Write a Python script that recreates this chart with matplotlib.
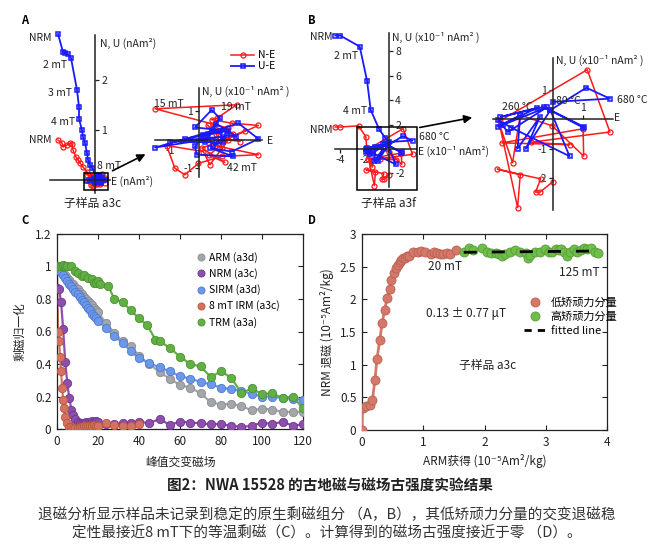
import numpy as np
import matplotlib
matplotlib.use('Agg')
import matplotlib.pyplot as plt
from matplotlib.patches import Rectangle, FancyArrowPatch
from matplotlib.lines import Line2D

plt.rcParams['font.family'] = ['Noto Sans CJK SC', 'DejaVu Sans']
plt.rcParams['font.size'] = 8
plt.rcParams['axes.unicode_minus'] = False

W, H = 660, 553

# ---------------- data ----------------
# A: AF demagnetisation of a3c. tail in nAm^2, near-zero steps in 1e-1 nAm^2
a_ue_tail_e = [-0.74, -0.64, -0.60, -0.54, -0.48, -0.36, -0.32, -0.32, -0.26, -0.24, -0.20, -0.16, -0.14, -0.10, -0.06]
a_ue_tail_u = [2.92, 2.56, 2.54, 2.52, 2.44, 1.80, 1.46, 1.22, 1.00, 0.86, 0.74, 0.54, 0.40, 0.30, 0.24]
a_ne_tail_e = [-0.74, -0.66, -0.64, -0.56, -0.50, -0.46, -0.44, -0.38, -0.34, -0.30, -0.24, -0.16, -0.10]
a_ne_tail_n = [0.80, 0.74, 0.66, 0.70, 0.74, 0.72, 0.60, 0.46, 0.40, 0.34, 0.26, 0.16, 0.06]
a_ue_e = [0.5, -1.53, 0.85, -1.01, 0.6, -0.49, 1.0, -0.14, 0.44, 0.73, 0.3, 1.37, 2.07, 1.14, 0.4,
          1.2, -0.08, -0.14, 0.15, 0.73, 0.85, 0.5, 0.97, 1.3, 0.6, 0.2]
a_ue_u = [0.3, -0.28, 0.1, -0.07, -0.1, 0.02, 0.3, 0.42, 1.03, 0.74, 0.2, 0.57, 0.02, -0.42, -0.3,
          -0.59, -0.53, -0.24, 0.16, 0.28, -0.07, -0.19, 0.16, 0.1, 0.55, -0.1]
a_ne_e = [0.3, 0.6, 1.0, -1.53, 1.31, 0.62, 0.44, 1.14, 2.07, 0.5, 2.07, 0.79, -0.02, -0.49, -0.84,
          -1.13, 0.15, 0.38, 1.02, 1.43, 0.97, 0.67, 0.2, 0.8, 0.5, 1.2, 0.35, 0.9, 0.1, 1.6]
a_ne_n = [0.5, 0.2, 0.4, 1.07, 1.21, 0.74, 0.69, 0.57, 0.49, -0.2, -0.53, -0.59, -0.83, -1.23, -1.0,
          -0.21, -0.42, -0.88, -0.01, -0.07, 0.4, 0.28, 0.1, -0.3, 0.45, 0.2, -0.55, -0.8, -0.3, 0.3]

# B: thermal demagnetisation of a3f, all in 1e-1 nAm^2
b_ue_tail_e = [-4.4, -4.0, -2.4, -1.8, -1.5, -0.8, -0.3]
b_ue_tail_u = [9.3, 9.3, 8.4, 5.6, 3.2, 1.6, 0.9]
b_ne_tail_e = [-4.4, -4.0, -2.5, -1.9]
b_ne_tail_n = [1.8, 1.8, 1.9, 1.0]
b_ue_e = [0.0, 1.93, 1.13, -0.09, 1.04, 1.02, -0.31, -1.78, -0.53, -1.87, -1.11, -1.2, -0.44, -0.92,
          -0.09, 0.56, -1.42, -1.87, -1.53, -0.2, -1.7]
b_ue_u = [0.58, 0.69, 1.06, 0.3, -0.26, -0.29, 0.41, 0.07, 0.38, -0.26, 0.13, -1.0, 0.08, -1.01,
          0.3, -1.26, -0.29, -0.03, -0.44, 0.4, -0.2]
b_ne_e = [-1.81, 1.16, 1.93, -0.76, 0.56, -1.73, 1.02, 1.04, -0.03, -1.11, -1.37, -1.81, -1.2, -1.11,
          -1.89, -0.42, -0.59, -0.44, 0.0]
b_ne_n = [-0.07, 1.67, -0.44, -0.79, -0.87, -0.81, -0.33, -1.26, -0.23, 0.13, -1.48, -0.2, -3.0, -1.89,
          -1.7, -2.03, -2.48, -2.48, -2.12]

# C: normalised AF demagnetisation
c_x_ext = [24, 28, 32, 36, 40, 45, 50, 55, 60, 65, 70, 75, 80, 85, 90, 95, 100, 105, 110, 115, 120]
c_x_arm = list(range(21)) + c_x_ext
c_arm = [1.00, 0.99, 0.975, 0.96, 0.945, 0.93, 0.915, 0.90, 0.89, 0.875, 0.86, 0.845, 0.83, 0.815,
         0.80, 0.79, 0.775, 0.76, 0.745, 0.73, 0.72,
         0.65, 0.59, 0.54, 0.51, 0.45, 0.40, 0.35, 0.31, 0.27, 0.255, 0.22, 0.165, 0.15, 0.155,
         0.14, 0.115, 0.125, 0.12, 0.105, 0.105, 0.105]
c_x_nrm = list(range(21)) + c_x_ext
c_nrm = [0.87, 0.86, 0.78, 0.615, 0.415, 0.285, 0.19, 0.12, 0.085, 0.06, 0.045, 0.04, 0.035, 0.04,
         0.045, 0.04, 0.045, 0.05, 0.045, 0.05, 0.045,
         0.03, 0.03, 0.035, 0.04, 0.045, 0.035, 0.062, 0.025, 0.045, 0.04, 0.035, 0.03, 0.03,
         0.02, 0.012, 0.02, 0.04, 0.03, 0.045, 0.02, 0.03]
c_x_sirm = list(range(21)) + c_x_ext
c_sirm = [1.00, 0.98, 0.965, 0.945, 0.93, 0.91, 0.895, 0.88, 0.86, 0.845, 0.83, 0.81, 0.795, 0.78,
          0.76, 0.745, 0.73, 0.71, 0.695, 0.68, 0.665,
          0.62, 0.57, 0.53, 0.48, 0.435, 0.405, 0.38, 0.355, 0.325, 0.31, 0.29, 0.275, 0.255,
          0.245, 0.235, 0.215, 0.20, 0.20, 0.19, 0.185, 0.18]
c_x_irm = [0, 0.5, 1, 1.5, 2, 2.5, 3, 3.5, 4] + list(range(5, 21)) + [24, 28, 32, 36, 40]
c_irm = [1.0, 0.595, 0.54, 0.445, 0.355, 0.25, 0.18, 0.13, 0.075,
         0.035, 0.015, 0.01, 0.008, 0.005, 0.008, 0.01, 0.015, 0.02, 0.02, 0.02, 0.02, 0.02,
         0.025, 0.02, 0.02,
         0.035, 0.025, 0.02, 0.02, 0.03]
c_x_trm = [0, 1, 2, 3, 4, 5, 7, 9, 10, 12, 13, 15, 17, 18, 19, 20, 21, 25, 28, 32, 36, 40, 44, 48,
           50, 55, 60, 65, 70, 75, 80, 85, 90, 95, 100, 105, 110, 115, 120]
c_trm = [1.0, 1.0, 1.005, 1.01, 1.0, 1.0, 1.0, 0.97, 0.96, 0.94, 0.95, 0.93, 0.92, 0.90, 0.90, 0.91,
         0.89, 0.88, 0.80, 0.78, 0.73, 0.68, 0.64, 0.55, 0.54, 0.50, 0.445, 0.40, 0.385, 0.32,
         0.355, 0.315, 0.22, 0.25, 0.215, 0.22, 0.19, 0.20, 0.127]
c_series = [('ARM (a3d)', c_x_arm, c_arm, '#a3a6aa', '#8a8d91'),
            ('NRM (a3c)', c_x_nrm, c_nrm, '#8c4fab', '#6f3690'),
            ('SIRM (a3d)', c_x_sirm, c_sirm, '#6d98ea', '#4f7bd0'),
            ('8 mT IRM (a3c)', c_x_irm, c_irm, '#d4725f', '#b85644'),
            ('TRM (a3a)', c_x_trm, c_trm, '#62b043', '#4a9330')]

# D: NRM lost vs ARM gained
d_low_x = [0, 0.01, 0.07, 0.125, 0.17, 0.21, 0.245, 0.29, 0.33, 0.37, 0.41, 0.45, 0.48, 0.52, 0.555,
           0.58, 0.615, 0.64, 0.67, 0.70, 0.735, 0.77, 0.84, 0.91, 0.96, 1.03, 1.12, 1.17, 1.22,
           1.28, 1.33, 1.39, 1.43, 1.54]
d_low_y = [0, 0.34, 0.37, 0.39, 0.46, 0.76, 1.09, 1.38, 1.64, 1.84, 2.02, 2.16, 2.29, 2.40, 2.48,
           2.53, 2.57, 2.60, 2.63, 2.64, 2.66, 2.66, 2.72, 2.73, 2.74, 2.73, 2.69, 2.72, 2.71,
           2.69, 2.69, 2.71, 2.70, 2.75]
d_high_x = [1.66, 1.74, 1.81, 1.96, 2.04, 2.10, 2.18, 2.23, 2.29, 2.34, 2.42, 2.50, 2.58, 2.67, 2.71,
            2.75, 2.83, 2.91, 2.98, 3.05, 3.10, 3.16, 3.21, 3.25, 3.29, 3.35, 3.40, 3.46, 3.51,
            3.58, 3.62, 3.68, 3.74, 3.80, 3.86]
d_high_y = [2.73, 2.79, 2.75, 2.79, 2.73, 2.71, 2.71, 2.69, 2.67, 2.69, 2.72, 2.75, 2.72, 2.71, 2.64,
            2.68, 2.72, 2.72, 2.77, 2.73, 2.72, 2.77, 2.75, 2.77, 2.72, 2.67, 2.73, 2.77, 2.72,
            2.75, 2.78, 2.77, 2.79, 2.73, 2.71]

RED = '#ff1a1a'
BLUE = '#1a1aff'
TXT = '#222222'
SMALL = 7.5
LOW_C, LOW_E = '#d4786a', '#bb5f50'
HIGH_C, HIGH_E = '#6fbd4b', '#55a035'

fig = plt.figure(figsize=(W / 100, H / 100), dpi=100)


def px_rect(x0, y0, x1, y1):
    return [x0 / W, 1 - y1 / H, (x1 - x0) / W, (y1 - y0) / H]


def fpx(x, y):
    return (x / W, 1 - y / H)


def zij_axes(box, origin, ppu, vbound, hbound, vside, hside):
    ax = fig.add_axes(px_rect(*box))
    x0, y0, x1, y1 = box
    ox, oy = origin
    ax.set_xlim((x0 - ox) / ppu, (x1 - ox) / ppu)
    ax.set_ylim((oy - y1) / ppu, (oy - y0) / ppu)
    ax.patch.set_alpha(0)
    for s in ax.spines.values():
        s.set_visible(False)
    for side, b in ((vside, vbound), (hside, hbound)):
        sp = ax.spines[side]
        sp.set_visible(True)
        sp.set_position(('data', 0))
        sp.set_bounds(*b)
        sp.set_linewidth(1.1)
        sp.set_color(TXT)
    ax.yaxis.set_ticks_position(vside)
    ax.xaxis.set_ticks_position(hside)
    ax.tick_params(length=3, width=0.9, pad=1.5, labelsize=SMALL, colors=TXT)
    return ax


def zij_plot(ax, e, n, u_e, u):
    ax.plot(e, n, '-o', color=RED, lw=1.1, ms=3.6, mfc='none', mew=0.9, label='N-E')
    ax.plot(u_e, u, '-s', color=BLUE, lw=1.3, ms=3.4, mfc='none', mew=1.1, label='U-E')


def notes(ax, items, ha='left'):
    for txt, x, y in items:
        ax.text(x, y, txt, ha=ha, va='center', fontsize=SMALL, color=TXT)


# ---- A main ----
axA = zij_axes((40, 25, 140, 195), (95, 180), 50, (-0.26, 2.9), (-0.9, 0.3), 'right', 'bottom')
axA.set_yticks([1, 2])
axA.set_xticks([])
zij_plot(axA, a_ne_tail_e + [v / 10 for v in a_ne_e], a_ne_tail_n + [v / 10 for v in a_ne_n],
         a_ue_tail_e + [v / 10 for v in a_ue_e], a_ue_tail_u + [v / 10 for v in a_ue_u])
axA.add_patch(Rectangle((-0.22, -0.2), 0.48, 0.34, fill=False, lw=1.1, ec='black', zorder=5))
notes(axA, [('NRM', -0.86, 2.84), ('2 mT', -0.56, 2.3), ('3 mT', -0.46, 1.74),
            ('4 mT', -0.40, 1.16), ('NRM', -0.86, 0.80)], ha='right')
notes(axA, [('8 mT', 0.04, 0.28), ('N, U (nAm²)', 0.1, 2.74), ('E (nAm²)', 0.32, -0.02)])
axA.text(-0.04, -0.46, '子样品 a3c', ha='center', va='center', fontsize=8.5, color=TXT)

# ---- A inset ----
axAi = zij_axes((150, 85, 280, 185), (199, 139.5), 28.7, (-1.31, 1.79), (-1.53, 2.2), 'left', 'bottom')
axAi.set_yticks([-1, 1])
axAi.set_xticks([-1])
zij_plot(axAi, a_ne_e, a_ne_n, a_ue_e, a_ue_u)
notes(axAi, [('N, U (x10⁻¹ nAm² )', 0.1, 1.69), ('15 mT', -1.57, 1.24),
             ('19 mT', 0.77, 1.13), ('42 mT', 0.98, -0.99), ('E', 2.37, -0.05)])

fig.legend(handles=[Line2D([], [], color=RED, marker='o', mfc='none', lw=1.1, ms=3.6, mew=0.9),
                    Line2D([], [], color=BLUE, marker='s', mfc='none', lw=1.3, ms=3.4, mew=1.1)],
           labels=['N-E', 'U-E'], loc='upper left', bbox_to_anchor=fpx(226, 45), frameon=False,
           fontsize=SMALL, handlelength=2.2, handletextpad=0.4, labelspacing=0.1, borderpad=0)

# ---- B main ----
axB = zij_axes((305, 25, 470, 200), (389, 149), 12.2, (-3.1, 9.5), (-4.4, 2.2), 'right', 'bottom')
axB.set_yticks([-2, 2, 4, 6, 8])
axB.set_xticks([-4, -2])
zij_plot(axB, b_ne_tail_e + b_ne_e, b_ne_tail_n + b_ne_n, b_ue_tail_e + b_ue_e, b_ue_tail_u + b_ue_u)
axB.add_patch(Rectangle((-2.62, -3.36), 4.92, 5.16, fill=False, lw=1.1, ec='black', zorder=5))
notes(axB, [('NRM', -4.6, 9.18), ('NRM', -4.6, 1.56), ('2 mT', -2.54, 7.62), ('4 mT', -1.8, 3.1)],
      ha='right')
notes(axB, [('680 °C', 2.46, 0.98), ('E (x10⁻¹ nAm²)', 2.38, -0.16),
            ('N, U (x10⁻¹ nAm² )', 0.25, 9.18)])
axB.text(-0.08, -4.43, '子样品 a3f', ha='center', va='center', fontsize=8.5, color=TXT)

# ---- B inset ----
axBi = zij_axes((485, 50, 650, 215), (553, 119), 29.5, (-3.08, 2.07), (-2.03, 2.03), 'left', 'top')
axBi.set_yticks([-2, -1, 1])
axBi.set_xticks([1])
zij_plot(axBi, b_ne_e, b_ne_n, b_ue_e, b_ue_u)
notes(axBi, [('N, U (x10⁻¹ nAm² )', 0.1, 2.0), ('260 °C', -1.73, 0.41),
             ('80 °C', 0.1, 0.61), ('680 °C', 2.17, 0.64), ('E', 2.08, 0.02)])

for start, end in [((110, 172), (148, 153)), ((417, 128), (475, 117))]:
    fig.add_artist(FancyArrowPatch(fpx(*start), fpx(*end), transform=fig.transFigure,
                                   arrowstyle='-|>', mutation_scale=12, lw=1.2, color='black'))

# ---- C ----
axC = fig.add_axes(px_rect(57, 234, 303, 429))
for label, xs, ys, fc, ec in c_series:
    axC.plot(xs, ys, '-', color=fc, lw=1.6, zorder=2)
    axC.plot(xs, ys, 'o', ms=6, mfc=fc, mec=ec, mew=0.6, zorder=3, label=label)
axC.set_xlim(0, 120)
axC.set_ylim(0, 1.2)
axC.set_xticks(range(0, 121, 20))
axC.set_yticks([0, 0.2, 0.4, 0.6, 0.8, 1.0, 1.2])
axC.set_yticklabels(['0', '0.2', '0.4', '0.6', '0.8', '1', '1.2'])
axC.set_xlabel('峰值交变磁场', fontsize=8.5, labelpad=6, color=TXT)
axC.set_ylabel('剩磁归一化', fontsize=8.5, labelpad=6, color=TXT)
axC.legend(loc='upper left', bbox_to_anchor=(0.52, 0.955), frameon=False, fontsize=SMALL,
           handletextpad=0.2, labelspacing=0.5, markerscale=0.85, handlelength=1.2)

# ---- D ----
axD = fig.add_axes(px_rect(362, 234, 607, 430))
axD.plot(d_low_x, d_low_y, '-o', color=LOW_C, lw=2, ms=6.5, mfc=LOW_C, mec=LOW_E, mew=0.6, zorder=3)
axD.plot(d_high_x, d_high_y, 'o', ms=6.5, mfc=HIGH_C, mec=HIGH_E, mew=0.6, zorder=3)
k, b0 = np.polyfit(d_high_x, d_high_y, 1)
fx = np.array([min(d_high_x), max(d_high_x)])
axD.plot(fx, k * fx + b0, color='black', lw=2, dashes=(4.7, 5.4), zorder=4)
axD.set_xlim(0, 4)
axD.set_ylim(0, 3)
axD.set_xticks([0, 1, 2, 3, 4])
axD.set_yticks([0, 0.5, 1, 1.5, 2, 2.5, 3])
axD.set_yticklabels(['0', '0.5', '1', '1.5', '2', '2.5', '3'])
axD.set_xlabel('ARM获得 (10⁻⁵Am²/kg)', fontsize=8.5, labelpad=4, color=TXT)
axD.set_ylabel('NRM 退磁 (10⁻⁵Am²/kg)', fontsize=8.5, labelpad=4, color=TXT)
axD.text(1.35, 2.50, '20 mT', fontsize=8.5, ha='center', va='center', color=TXT)
axD.text(3.55, 2.41, '125 mT', fontsize=8.5, ha='center', va='center', color=TXT)
axD.text(1.7, 1.78, '0.13 ± 0.77 μT', fontsize=8.5, ha='center', va='center', color=TXT)
axD.text(2.05, 0.98, '子样品 a3c', fontsize=8.5, ha='center', va='center', color=TXT)
d_handles = [Line2D([], [], ls='none', marker='o', ms=6.5, mfc=LOW_C, mec=LOW_E, mew=0.6),
             Line2D([], [], ls='none', marker='o', ms=6.5, mfc=HIGH_C, mec=HIGH_E, mew=0.6),
             Line2D([], [], color='black', lw=2, dashes=(2.6, 2.2))]
axD.legend(d_handles, ['低矫顽力分量', '高矫顽力分量', 'fitted line'], loc='upper left',
           bbox_to_anchor=(0.62, 0.73), frameon=False, fontsize=8, handletextpad=0.4,
           labelspacing=0.35, handlelength=2.0)

for ax in (axC, axD):
    ax.tick_params(direction='in', top=True, right=True, length=3.5, width=0.8, labelsize=8.5,
                   colors=TXT, pad=4)
    for s in ax.spines.values():
        s.set_linewidth(0.9)
        s.set_color(TXT)

# panel letters
for letter, x, y in [('A', 25, 20), ('B', 312, 20), ('C', 25, 221), ('D', 312, 221)]:
    fig.text(*fpx(x, y), letter, fontsize=8, fontweight='bold', ha='center', va='center')

fig.text(*fpx(330, 486), '图2：NWA 15528 的古地磁与磁场古强度实验结果', fontsize=10.5,
         fontweight='bold', ha='center', va='center', color=TXT)
fig.text(*fpx(327, 515), '退磁分析显示样品未记录到稳定的原生剩磁组分 （A，B），其低矫顽力分量的交变退磁稳',
         fontsize=10.5, ha='center', va='center', color='#333333')
fig.text(*fpx(327, 533), '定性最接近8 mT下的等温剩磁（C）。计算得到的磁场古强度接近于零 （D）。',
         fontsize=10.5, ha='center', va='center', color='#333333')

fig.savefig('out.png', dpi=100)
